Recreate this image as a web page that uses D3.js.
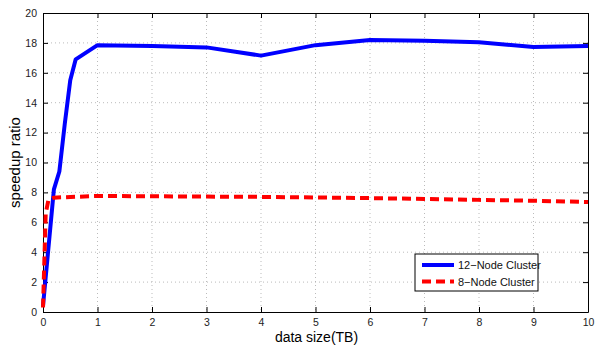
<!DOCTYPE html>
<html>
<head>
<meta charset="utf-8">
<script src="https://cdn.jsdelivr.net/npm/d3@7"></script>
<style>
  body { margin: 0; background: #fff; }
  svg { font-family: "Liberation Sans", Arial, sans-serif; }
</style>
</head>
<body>
<div id="chart"></div>
<script>
// data
const xTicks = [0, 1, 2, 3, 4, 5, 6, 7, 8, 9, 10];
const yTicks = [0, 2, 4, 6, 8, 10, 12, 14, 16, 18, 20];
const sizes12 = [0, 0.2, 0.3, 0.4, 0.5, 0.6, 1, 2, 3, 4, 5, 6, 7, 8, 9, 10];
const speedup12 = [0.4, 8.2, 9.4, 12.6, 15.5, 16.9, 17.85, 17.8, 17.7, 17.15, 17.85, 18.2, 18.15, 18.05, 17.72, 17.8];
const sizes8 = [0, 0.05, 0.1, 0.2, 1, 2, 3, 4, 5, 6, 7, 8, 9, 10];
const speedup8 = [0.3, 6.6, 7.5, 7.65, 7.76, 7.74, 7.72, 7.7, 7.66, 7.62, 7.56, 7.5, 7.44, 7.36];
const seriesNames = ["12\u2212Node Cluster", "8\u2212Node Cluster"];

const margin = { top: 13, right: 7, bottom: 33, left: 43 },
  width = 595 - margin.left - margin.right,
  height = 345 - margin.top - margin.bottom;

const svg = d3.select("#chart")
  .append("svg")
  .attr("width", 595)
  .attr("height", 345)
  .append("g")
  .attr("transform", `translate(${margin.left},${margin.top})`);

const x = d3.scaleLinear().domain([0, 10]).range([0, width]);
const y = d3.scaleLinear().domain([0, 20]).range([height, 0]);

// dotted grid
svg.append("g")
  .selectAll("line")
  .data(xTicks.slice(1, -1))
  .join("line")
  .attr("x1", d => x(d)).attr("x2", d => x(d))
  .attr("y1", 0).attr("y2", height)
  .attr("stroke", "#aaa").attr("stroke-width", 0.8)
  .attr("stroke-dasharray", "1,3");
svg.append("g")
  .selectAll("line")
  .data(yTicks.slice(1, -1))
  .join("line")
  .attr("y1", d => y(d)).attr("y2", d => y(d))
  .attr("x1", 0).attr("x2", width)
  .attr("stroke", "#aaa").attr("stroke-width", 0.8)
  .attr("stroke-dasharray", "1,3");

// axes, ticks pointing inward like matlab
svg.append("g")
  .attr("transform", `translate(0,${height})`)
  .call(d3.axisBottom(x).tickValues(xTicks).tickSizeInner(-5).tickSizeOuter(0).tickPadding(7));
svg.append("g")
  .call(d3.axisLeft(y).tickValues(yTicks).tickSizeInner(-5).tickSizeOuter(0).tickPadding(6));
svg.append("g")
  .call(d3.axisTop(x).tickValues(xTicks).tickSizeInner(-5).tickSizeOuter(0).tickFormat(""));
svg.append("g")
  .attr("transform", `translate(${width},0)`)
  .call(d3.axisRight(y).tickValues(yTicks).tickSizeInner(-5).tickSizeOuter(0).tickFormat(""));

svg.selectAll(".domain").attr("stroke", "#000");
svg.selectAll(".tick line").attr("stroke", "#000");
svg.selectAll(".tick text").style("font-size", "10.5px").attr("fill", "#222");

// lines
const line = d3.line().x(d => x(d[0])).y(d => y(d[1]));

svg.append("path")
  .datum(sizes12.map((s, i) => [s, speedup12[i]]))
  .attr("fill", "none")
  .attr("stroke", "#0000ff")
  .attr("stroke-width", 4)
  .attr("stroke-linejoin", "round")
  .attr("d", line);

svg.append("path")
  .datum(sizes8.map((s, i) => [s, speedup8[i]]))
  .attr("fill", "none")
  .attr("stroke", "#ff0000")
  .attr("stroke-width", 4)
  .attr("stroke-dasharray", "9,5")
  .attr("d", line);

// axis labels
svg.append("text")
  .attr("x", x(5) + 1)
  .attr("y", height + 30)
  .attr("text-anchor", "middle")
  .style("font-size", "14px")
  .text("data size(TB)");

svg.append("text")
  .attr("transform", `translate(${-23},${height / 2}) rotate(-90)`)
  .attr("text-anchor", "middle")
  .style("font-size", "15px")
  .text("speedup ratio");

// legend
const lg = svg.append("g")
  .attr("transform", `translate(${415 - margin.left},${254 - margin.top})`);
lg.append("rect")
  .attr("width", 123).attr("height", 37)
  .attr("fill", "#fff").attr("stroke", "#000").attr("stroke-width", 1);

const styles = [{ c: "#0000ff", dash: null }, { c: "#ff0000", dash: "9,5" }];
seriesNames.forEach((name, i) => {
  const yy = 11 + i * 16.5;
  lg.append("line")
    .attr("x1", 7).attr("x2", 39)
    .attr("y1", yy).attr("y2", yy)
    .attr("stroke", styles[i].c).attr("stroke-width", 4)
    .attr("stroke-dasharray", styles[i].dash);
  lg.append("text")
    .attr("x", 43).attr("y", yy + 4)
    .style("font-size", "11px")
    .attr("fill", "#111")
    .text(name);
});
</script>
</body>
</html>
